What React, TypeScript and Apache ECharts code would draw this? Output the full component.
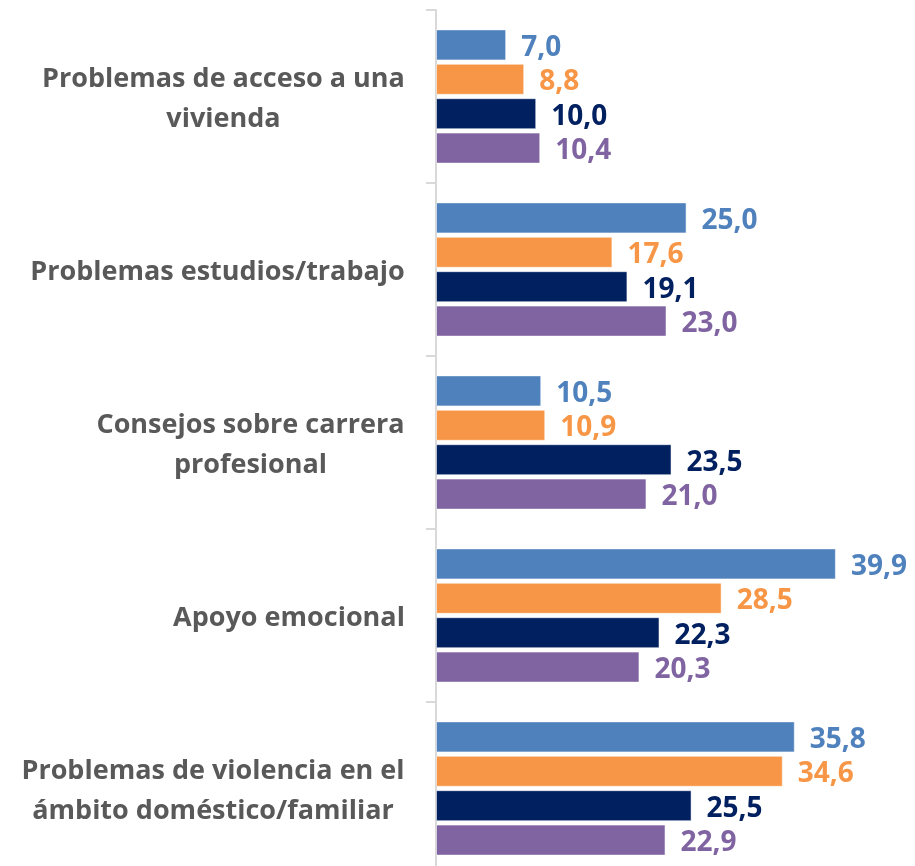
import React, { useEffect, useRef } from "react";
import * as echarts from "echarts";

const categories = [
  "Problemas de acceso a una\nvivienda",
  "Problemas estudios/trabajo",
  "Consejos sobre carrera\nprofesional",
  "Apoyo emocional",
  "Problemas de violencia en el\námbito doméstico/familiar",
];
const seriesNames = ["Serie 1", "Serie 2", "Serie 3", "Serie 4"];
const serie1 = [7.0, 25.0, 10.5, 39.9, 35.8];
const serie2 = [8.8, 17.6, 10.9, 28.5, 34.6];
const serie3 = [10.0, 19.1, 23.5, 22.3, 25.5];
const serie4 = [10.4, 23.0, 21.0, 20.3, 22.9];
const colors = ["#4F81BD", "#F79646", "#002060", "#8064A2"];

const FONT = "'Open Sans', 'Noto Sans', sans-serif";
const CAT_SIZE = 27;
const VAL_SIZE = 28;

export default function App() {
  const ref = useRef<HTMLDivElement>(null);
  useEffect(() => {
    if (!ref.current) return;
    const chart = echarts.init(ref.current, undefined, { renderer: "svg" });
    const ctx = document.createElement("canvas").getContext("2d")!;
    ctx.font = `bold ${CAT_SIZE}px ${FONT}`;
    const rich: Record<string, any> = {};
    categories.forEach((c, i) => {
      const w = Math.max(...c.split("\n").map((l) => ctx.measureText(l).width));
      rich["c" + i] = {
        width: Math.ceil(w) + 2,
        align: "center",
        fontFamily: FONT,
        fontWeight: "bold",
        fontSize: CAT_SIZE,
        color: "#595959",
        lineHeight: 40,
      };
    });
    const data = [serie1, serie2, serie3, serie4];
    chart.setOption({
      animation: false,
      grid: { left: 436, top: 10, width: 451, height: 865, containLabel: false },
      xAxis: {
        type: "value",
        min: 0,
        max: 45,
        show: false,
      },
      yAxis: {
        type: "category",
        inverse: true,
        data: categories,
        axisLine: { show: true, lineStyle: { color: "#D9D9D9", width: 2 } },
        axisTick: { show: true, length: 10, lineStyle: { color: "#D9D9D9", width: 2 } },
        axisLabel: {
          margin: 30,
          align: "right",
          formatter: (v: string) => {
            const i = categories.indexOf(v);
            return v
              .split("\n")
              .map((l) => `{c${i}|${l}}`)
              .join("\n");
          },
          rich,
        },
      },
      series: data.map((d, si) => ({
        name: seriesNames[si],
        type: "bar",
        data: d,
        barWidth: 31,
        barGap: "11%",
        itemStyle: {
          color: colors[si],
          borderColor: "rgba(255,255,255,0.5)",
          borderWidth: 1,
        },
        label: {
          show: true,
          position: "right",
          distance: 15,
          color: colors[si],
          fontFamily: FONT,
          fontWeight: "bold",
          fontSize: VAL_SIZE,
          formatter: (p: any) => p.value.toFixed(1).replace(".", ","),
        },
      })),
    });
    return () => chart.dispose();
  }, []);
  return (
    <div
      ref={ref}
      style={{ position: "fixed", left: 0, top: 0, width: 915, height: 890 }}
    />
  );
}
